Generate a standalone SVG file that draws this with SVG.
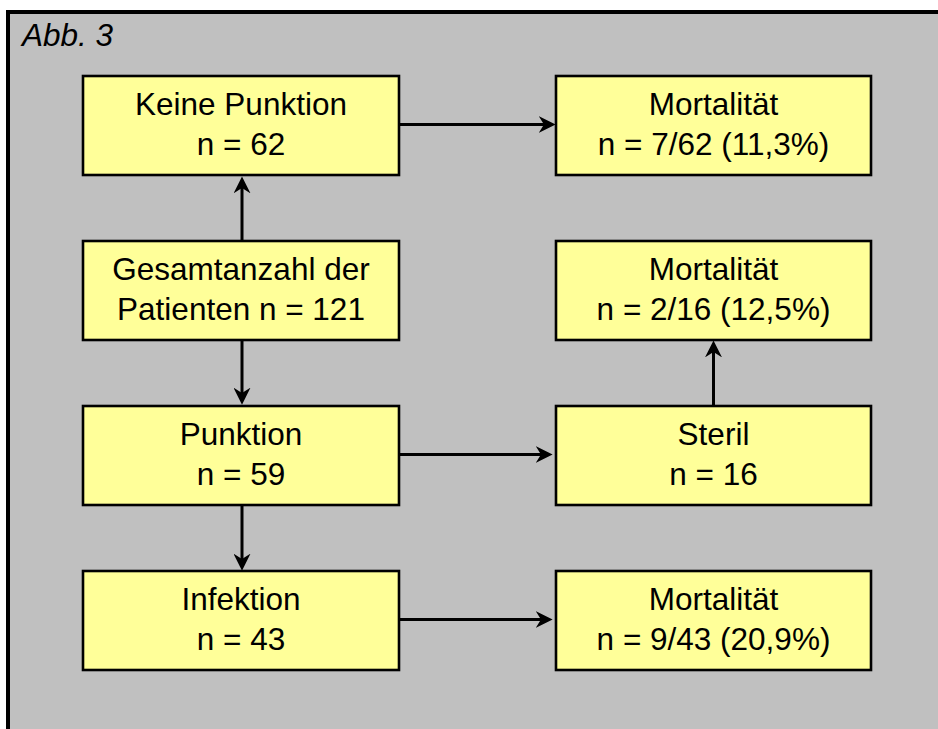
<svg xmlns="http://www.w3.org/2000/svg" width="938" height="729" viewBox="0 0 938 729">
<style>
.box{fill:#FFFF99;stroke:#000;stroke-width:2.6}
.t{font-family:"Liberation Sans",Arial,sans-serif;font-size:31.5px;fill:#000;text-anchor:middle}
.c{stroke:#000;stroke-width:3;fill:none;marker-end:url(#ah)}
</style>
<defs>
<marker id="ah" markerUnits="userSpaceOnUse" markerWidth="17" markerHeight="17" viewBox="0 0 16 16" refX="6" refY="8" orient="auto">
<path d="M0,0 L16,8 L0,16 L5,8 z" fill="#000"/>
</marker>
</defs>
<rect x="0" y="0" width="938" height="729" fill="#fff"/>
<rect x="8" y="12" width="930" height="717" fill="#C0C0C0"/>
<path d="M8,729 V12 H938" fill="none" stroke="#000" stroke-width="4"/>
<text x="22" y="46" font-family="'Liberation Sans',Arial,sans-serif" font-size="31.5" font-style="italic">Abb. 3</text>
<g id="connectors">
<line class="c" x1="399" y1="124.5" x2="545" y2="124.5"/>
<line class="c" x1="242" y1="241" x2="242" y2="187"/>
<line class="c" x1="242" y1="340" x2="242" y2="394"/>
<line class="c" x1="399" y1="454.5" x2="542" y2="454.5"/>
<line class="c" x1="713.5" y1="406" x2="713.5" y2="351"/>
<line class="c" x1="242" y1="505" x2="242" y2="560"/>
<line class="c" x1="399" y1="619.5" x2="542" y2="619.5"/>
</g>
<g id="keine">
<rect class="box" x="83" y="76" width="316" height="99"/>
<text class="t" x="241" y="115">Keine Punktion</text>
<text class="t" x="241" y="155">n = 62</text>
</g>
<g id="mort1">
<rect class="box" x="556" y="76" width="315" height="99"/>
<text class="t" x="713.5" y="115">Mortalität</text>
<text class="t" x="713.5" y="155">n = 7/62 (11,3%)</text>
</g>
<g id="gesamt">
<rect class="box" x="83" y="241" width="316" height="99"/>
<text class="t" x="241" y="280">Gesamtanzahl der</text>
<text class="t" x="241" y="320">Patienten n = 121</text>
</g>
<g id="mort2">
<rect class="box" x="556" y="241" width="315" height="99"/>
<text class="t" x="713.5" y="280">Mortalität</text>
<text class="t" x="713.5" y="320">n = 2/16 (12,5%)</text>
</g>
<g id="punktion">
<rect class="box" x="83" y="406" width="316" height="99"/>
<text class="t" x="241" y="445">Punktion</text>
<text class="t" x="241" y="485">n = 59</text>
</g>
<g id="steril">
<rect class="box" x="556" y="406" width="315" height="99"/>
<text class="t" x="713.5" y="445">Steril</text>
<text class="t" x="713.5" y="485">n = 16</text>
</g>
<g id="infektion">
<rect class="box" x="83" y="571" width="316" height="99"/>
<text class="t" x="241" y="610">Infektion</text>
<text class="t" x="241" y="650">n = 43</text>
</g>
<g id="mort3">
<rect class="box" x="556" y="571" width="315" height="99"/>
<text class="t" x="713.5" y="610">Mortalität</text>
<text class="t" x="713.5" y="650">n = 9/43 (20,9%)</text>
</g>
</svg>
